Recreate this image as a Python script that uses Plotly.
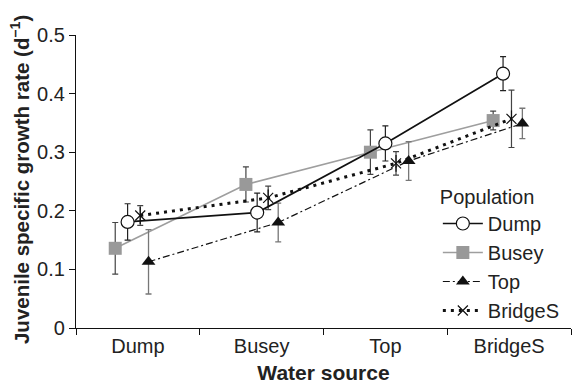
import plotly.graph_objects as go

# ---- data ----
sources = ["Dump", "Busey", "Top", "BridgeS"]
populations = ["Dump", "Busey", "Top", "BridgeS"]

dump_mean = [0.181, 0.197, 0.315, 0.434]
dump_err = [0.031, 0.033, 0.030, 0.029]
busey_mean = [0.136, 0.245, 0.300, 0.354]
busey_err = [0.044, 0.030, 0.038, 0.016]
top_mean = [0.113, 0.180, 0.285, 0.349]
top_err = [0.055, 0.033, 0.033, 0.026]
bridges_mean = [0.192, 0.222, 0.281, 0.357]
bridges_err = [0.017, 0.020, 0.020, 0.049]

y_ticks = [0, 0.1, 0.2, 0.3, 0.4, 0.5]
y_ticktext = ["0", "0.1", "0.2", "0.3", "0.4", "0.5"]

# ---- horizontal dodge within each water-source group (category units) ----
dodge = {
    "Dump": [-0.083, -0.036, 0.0, -0.049],
    "Busey": [-0.183, -0.127, -0.121, -0.129],
    "Top": [0.086, 0.134, 0.188, 0.107],
    "BridgeS": [0.019, 0.053, 0.086, 0.019],
}

FONT = "Liberation Sans, Arial, Helvetica, sans-serif"
TXT = "#222222"
fig = go.Figure()


def xs(name):
    return [i + d for i, d in enumerate(dodge[name])]


# Busey
fig.add_trace(go.Scatter(
    x=xs("Busey"), y=busey_mean, name="Busey", mode="lines+markers",
    line=dict(color="#9e9e9e", width=1.6),
    marker=dict(symbol="square", size=13, color="#999999", line=dict(width=0)),
    error_y=dict(type="data", array=busey_err, color="#444444", thickness=1.2, width=3),
    legendrank=2,
))
# Top
fig.add_trace(go.Scatter(
    x=xs("Top"), y=top_mean, name="Top", mode="lines+markers",
    line=dict(color="#111111", width=1.2, dash="7px,3px,2px,3px"),
    marker=dict(symbol="triangle-up", size=12, color="#111111", line=dict(width=0)),
    error_y=dict(type="data", array=top_err, color="#777777", thickness=1.3, width=3),
    legendrank=3,
))
# BridgeS (X part of the asterisk)
fig.add_trace(go.Scatter(
    x=xs("BridgeS"), y=bridges_mean, name="BridgeS", mode="lines+markers",
    line=dict(color="#111111", width=3, dash="3px,5px"),
    marker=dict(symbol="x-thin-open", size=10, color="#111111", line=dict(width=1.2, color="#111111")),
    error_y=dict(type="data", array=bridges_err, color="#444444", thickness=1.2, width=3),
    legendrank=4,
))
# BridgeS (vertical stroke of the asterisk)
fig.add_trace(go.Scatter(
    x=xs("BridgeS"), y=bridges_mean, mode="markers", showlegend=False, hoverinfo="skip",
    marker=dict(symbol="line-ns-open", size=12, color="#111111", line=dict(width=1.2, color="#111111")),
))
# Dump
fig.add_trace(go.Scatter(
    x=xs("Dump"), y=dump_mean, name="Dump", mode="lines+markers",
    line=dict(color="#111111", width=1.7),
    marker=dict(symbol="circle", size=13, color="white", line=dict(width=1.2, color="#111111")),
    error_y=dict(type="data", array=dump_err, color="#222222", thickness=1.2, width=3),
    legendrank=1,
))

fig.update_layout(
    width=573, height=384,
    margin=dict(l=76, r=2, t=35, b=56),
    paper_bgcolor="white", plot_bgcolor="white",
    font=dict(family=FONT, size=20, color=TXT),
    showlegend=True,
    legend=dict(
        title=dict(text="Population", font=dict(size=20)),
        x=0.731, y=0.512, xanchor="left", yanchor="top",
        bgcolor="rgba(0,0,0,0)", font=dict(size=20),
        tracegroupgap=0, itemwidth=40,
    ),
    xaxis=dict(
        automargin=False,
        range=[-0.5, 3.5], tickmode="array", tickvals=[0, 1, 2, 3], ticktext=sources,
        ticks="", showline=True, linecolor="#111111", linewidth=1.3,
        showgrid=False, zeroline=False, tickfont=dict(size=20),
        title=dict(text="<b>Water source</b>", font=dict(size=21)),
    ),
    xaxis2=dict(
        automargin=False,
        range=[-0.5, 3.5], overlaying="x", side="bottom", anchor="y",
        tickmode="array", tickvals=[-0.5, 0.5, 1.5, 2.5, 3.5],
        ticks="outside", ticklen=6, tickwidth=1.3, tickcolor="#111111",
        showticklabels=False, showgrid=False, zeroline=False, showline=False,
    ),
    yaxis=dict(
        automargin=False,
        range=[0, 0.5], tickmode="array", tickvals=y_ticks, ticktext=y_ticktext,
        ticks="outside", ticklen=6, tickwidth=1.3, tickcolor="#111111",
        showline=True, linecolor="#111111", linewidth=1.3,
        showgrid=False, zeroline=False, tickfont=dict(size=20),
    ),
    annotations=[dict(
        text="<b>Juvenile specific growth rate (d<sup>–1</sup>)</b>",
        xref="paper", yref="paper", x=-56 / 495, y=0.505,
        xanchor="center", yanchor="middle", textangle=-90, showarrow=False,
        font=dict(size=20.5, color=TXT, family=FONT),
    )],
)
# dummy trace to activate xaxis2
fig.add_trace(go.Scatter(x=[None], y=[None], xaxis="x2", showlegend=False, hoverinfo="skip"))

fig.write_html("out.html", config={"displayModeBar": False},
               post_script="document.body.style.margin='0px';")
